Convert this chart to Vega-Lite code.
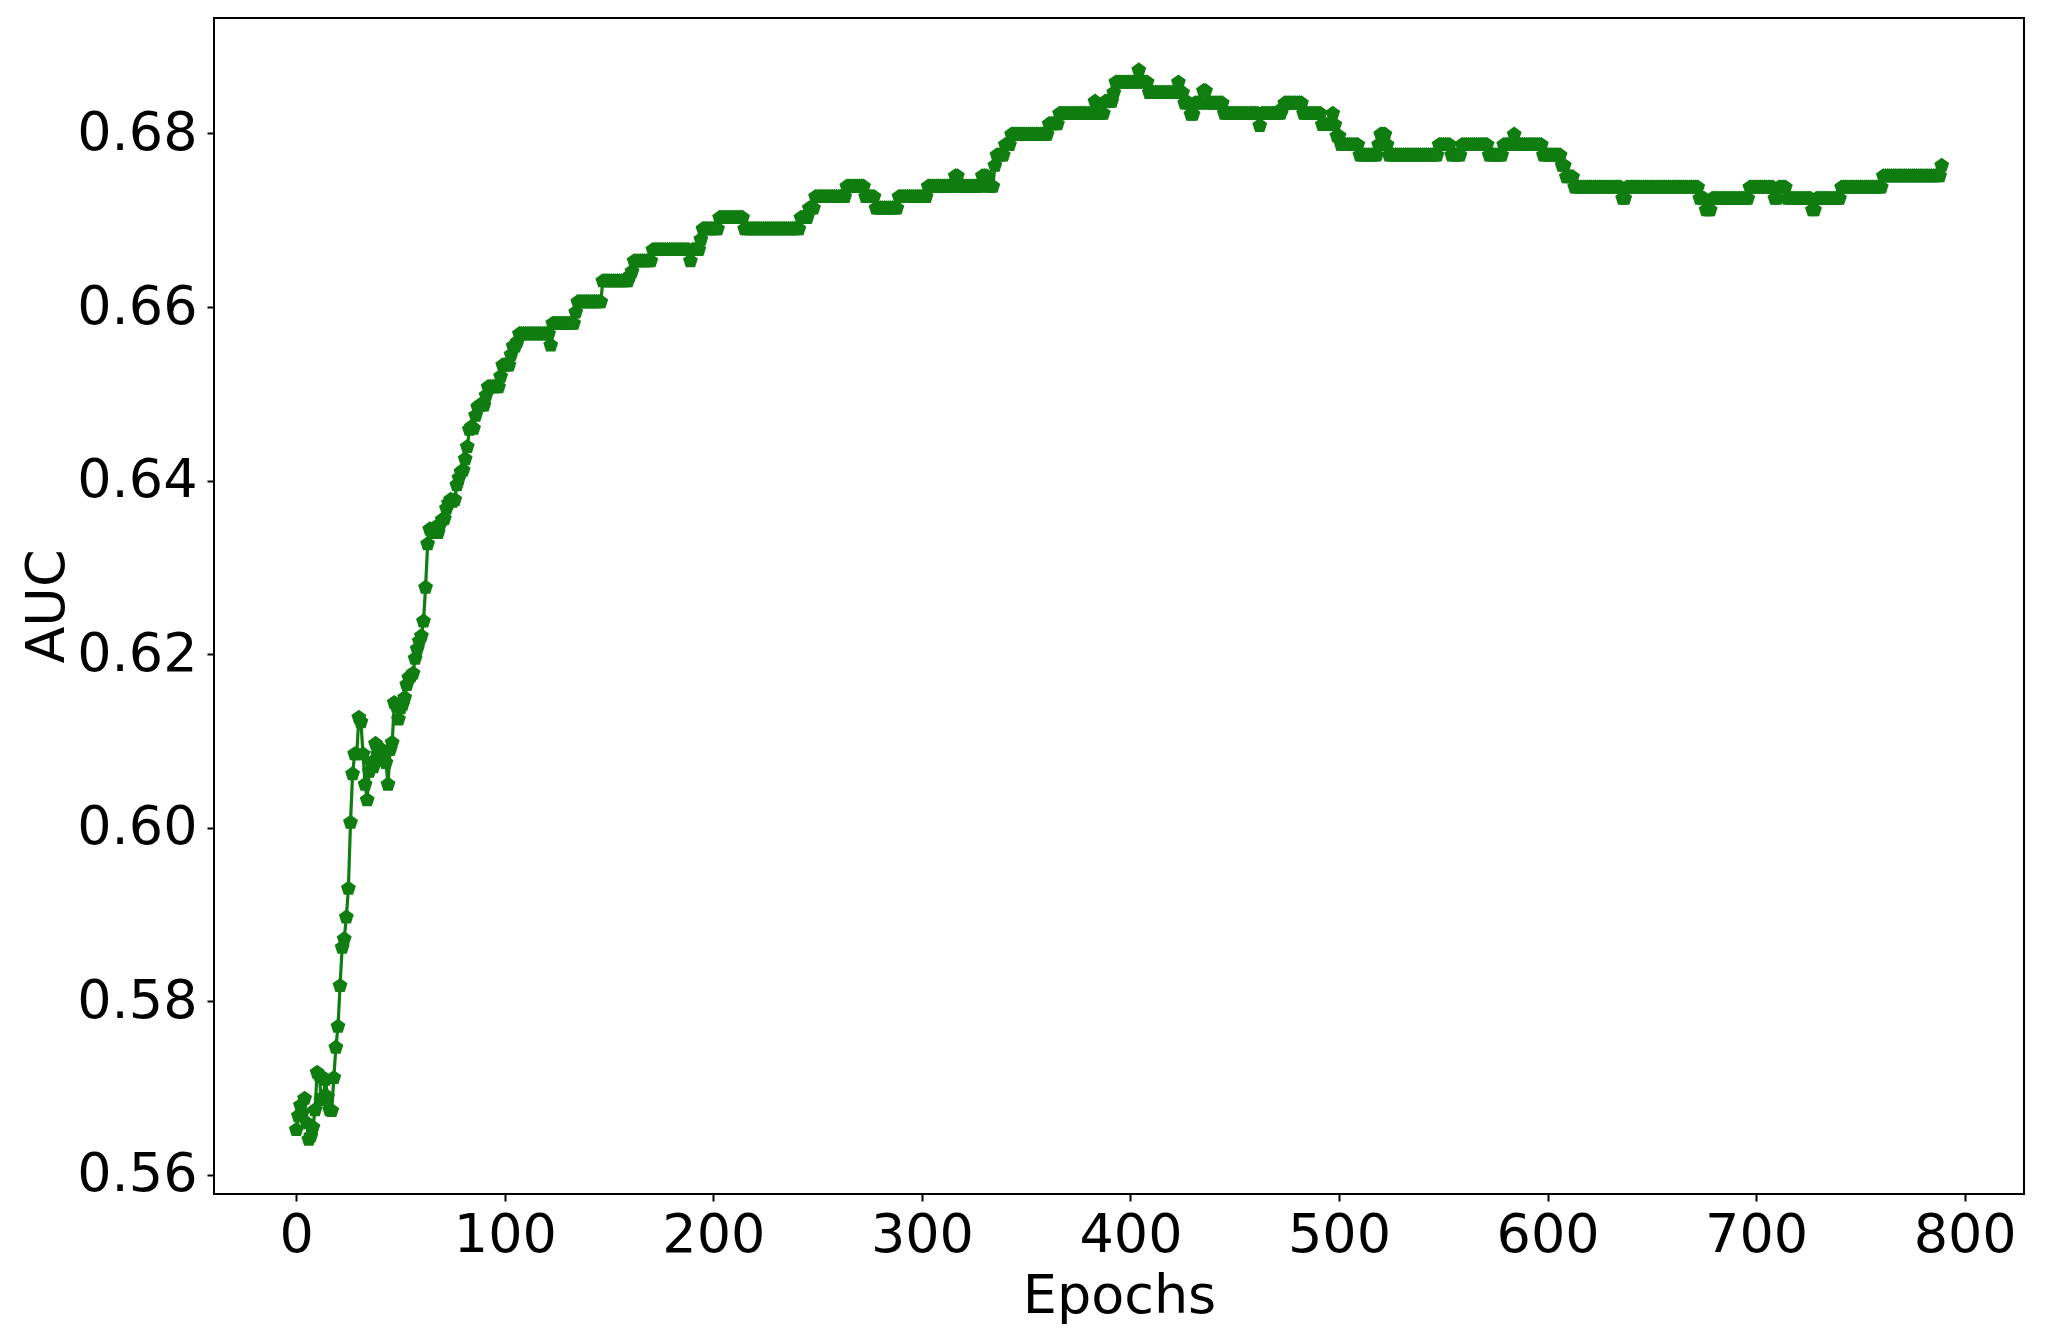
{
"$schema":"https://vega.github.io/schema/vega-lite/v6.json",
"autosize":{"type":"none"},
"width":1810,"height":1176,
"padding":{"left":214,"top":18,"right":30,"bottom":142},
"background":"white",
"config":{"font":"DejaVu Sans","view":{"stroke":"#000000","strokeWidth":2},
"axis":{"grid":false,"domain":false,"tickColor":"#000000","tickSize":7,"tickWidth":2,"labelColor":"#000000","labelFontSize":54,"labelFont":"DejaVu Sans","titleFont":"DejaVu Sans","titleFontSize":54,"titleFontWeight":"normal","titleColor":"#000000"}},
"data":{"values":[
{"epoch":0,"auc":0.5652},{"epoch":1,"auc":0.5668},{"epoch":2,"auc":0.568},{"epoch":3,"auc":0.5672},{"epoch":4,"auc":0.5688},{"epoch":5,"auc":0.566},{"epoch":6,"auc":0.5641},{"epoch":7,"auc":0.5645},{"epoch":8,"auc":0.5655},{"epoch":9,"auc":0.5675},
{"epoch":10,"auc":0.5718},{"epoch":11,"auc":0.5715},{"epoch":12,"auc":0.5686},{"epoch":13,"auc":0.569},{"epoch":14,"auc":0.571},{"epoch":15,"auc":0.569},{"epoch":16,"auc":0.5675},{"epoch":17,"auc":0.5674},{"epoch":18,"auc":0.5712},{"epoch":19,"auc":0.5747},
{"epoch":20,"auc":0.5771},{"epoch":21,"auc":0.5818},{"epoch":22,"auc":0.5862},{"epoch":23,"auc":0.5872},{"epoch":24,"auc":0.5897},{"epoch":25,"auc":0.593},{"epoch":26,"auc":0.6006},{"epoch":27,"auc":0.6062},{"epoch":28,"auc":0.6085},{"epoch":29,"auc":0.6085},
{"epoch":30,"auc":0.6127},{"epoch":31,"auc":0.6122},{"epoch":32,"auc":0.6085},{"epoch":33,"auc":0.605},{"epoch":34,"auc":0.6032},{"epoch":35,"auc":0.6065},{"epoch":36,"auc":0.6075},{"epoch":37,"auc":0.607},{"epoch":38,"auc":0.6097},{"epoch":39,"auc":0.6085},
{"epoch":40,"auc":0.6078},{"epoch":41,"auc":0.609},{"epoch":42,"auc":0.6085},{"epoch":43,"auc":0.6075},{"epoch":44,"auc":0.605},{"epoch":45,"auc":0.609},{"epoch":46,"auc":0.6098},{"epoch":47,"auc":0.6144},{"epoch":48,"auc":0.614},{"epoch":49,"auc":0.6125},
{"epoch":50,"auc":0.6138},{"epoch":51,"auc":0.6142},{"epoch":52,"auc":0.615},{"epoch":53,"auc":0.6165},{"epoch":54,"auc":0.6173},{"epoch":55,"auc":0.6175},{"epoch":56,"auc":0.6178},{"epoch":57,"auc":0.6195},{"epoch":58,"auc":0.6206},{"epoch":59,"auc":0.6215},
{"epoch":60,"auc":0.6221},{"epoch":61,"auc":0.6238},{"epoch":62,"auc":0.6277},{"epoch":63,"auc":0.6327},{"epoch":64,"auc":0.6344},{"epoch":65,"auc":0.634},{"epoch":66,"auc":0.6345},{"epoch":67,"auc":0.6342},{"epoch":68,"auc":0.634},{"epoch":69,"auc":0.635},
{"epoch":70,"auc":0.6355},{"epoch":71,"auc":0.6356},{"epoch":72,"auc":0.6368},{"epoch":73,"auc":0.6374},{"epoch":74,"auc":0.6378},{"epoch":75,"auc":0.6376},{"epoch":76,"auc":0.6378},{"epoch":77,"auc":0.6395},{"epoch":78,"auc":0.6403},{"epoch":79,"auc":0.641},
{"epoch":80,"auc":0.6412},{"epoch":81,"auc":0.6425},{"epoch":82,"auc":0.6439},{"epoch":83,"auc":0.6459},{"epoch":84,"auc":0.6462},{"epoch":85,"auc":0.646},{"epoch":86,"auc":0.6475},{"epoch":87,"auc":0.6485},{"epoch":88,"auc":0.6487},{"epoch":89,"auc":0.6487},
{"epoch":90,"auc":0.6487},{"epoch":91,"auc":0.6498},{"epoch":92,"auc":0.6508},{"epoch":93,"auc":0.6508},{"epoch":94,"auc":0.6508},{"epoch":95,"auc":0.6508},{"epoch":96,"auc":0.6508},{"epoch":97,"auc":0.6508},{"epoch":98,"auc":0.652},{"epoch":99,"auc":0.6533},
{"epoch":100,"auc":0.6533},{"epoch":101,"auc":0.6533},{"epoch":102,"auc":0.6533},{"epoch":103,"auc":0.6545},{"epoch":104,"auc":0.6555},{"epoch":105,"auc":0.6555},{"epoch":106,"auc":0.656},{"epoch":107,"auc":0.6569},{"epoch":108,"auc":0.6569},{"epoch":109,"auc":0.6569},
{"epoch":110,"auc":0.6569},{"epoch":111,"auc":0.6569},{"epoch":112,"auc":0.6569},{"epoch":113,"auc":0.6569},{"epoch":114,"auc":0.6569},{"epoch":115,"auc":0.6569},{"epoch":116,"auc":0.6569},{"epoch":117,"auc":0.6569},{"epoch":118,"auc":0.6569},{"epoch":119,"auc":0.6569},
{"epoch":120,"auc":0.6569},{"epoch":121,"auc":0.6569},{"epoch":122,"auc":0.6556},{"epoch":123,"auc":0.6581},{"epoch":124,"auc":0.6581},{"epoch":125,"auc":0.6581},{"epoch":126,"auc":0.6581},{"epoch":127,"auc":0.6581},{"epoch":128,"auc":0.6581},{"epoch":129,"auc":0.6581},
{"epoch":130,"auc":0.6581},{"epoch":131,"auc":0.6581},{"epoch":132,"auc":0.6581},{"epoch":133,"auc":0.6581},{"epoch":134,"auc":0.6594},{"epoch":135,"auc":0.6606},{"epoch":136,"auc":0.6606},{"epoch":137,"auc":0.6606},{"epoch":138,"auc":0.6606},{"epoch":139,"auc":0.6606},
{"epoch":140,"auc":0.6606},{"epoch":141,"auc":0.6606},{"epoch":142,"auc":0.6606},{"epoch":143,"auc":0.6606},{"epoch":144,"auc":0.6606},{"epoch":145,"auc":0.6606},{"epoch":146,"auc":0.6606},{"epoch":147,"auc":0.663},{"epoch":148,"auc":0.663},{"epoch":149,"auc":0.663},
{"epoch":150,"auc":0.663},{"epoch":151,"auc":0.663},{"epoch":152,"auc":0.663},{"epoch":153,"auc":0.663},{"epoch":154,"auc":0.663},{"epoch":155,"auc":0.663},{"epoch":156,"auc":0.663},{"epoch":157,"auc":0.663},{"epoch":158,"auc":0.663},{"epoch":159,"auc":0.663},
{"epoch":160,"auc":0.6636},{"epoch":161,"auc":0.6641},{"epoch":162,"auc":0.6653},{"epoch":163,"auc":0.6653},{"epoch":164,"auc":0.6653},{"epoch":165,"auc":0.6653},{"epoch":166,"auc":0.6653},{"epoch":167,"auc":0.6653},{"epoch":168,"auc":0.6653},{"epoch":169,"auc":0.6653},
{"epoch":170,"auc":0.6653},{"epoch":171,"auc":0.6666},{"epoch":172,"auc":0.6666},{"epoch":173,"auc":0.6666},{"epoch":174,"auc":0.6666},{"epoch":175,"auc":0.6666},{"epoch":176,"auc":0.6666},{"epoch":177,"auc":0.6666},{"epoch":178,"auc":0.6666},{"epoch":179,"auc":0.6666},
{"epoch":180,"auc":0.6666},{"epoch":181,"auc":0.6666},{"epoch":182,"auc":0.6666},{"epoch":183,"auc":0.6666},{"epoch":184,"auc":0.6666},{"epoch":185,"auc":0.6666},{"epoch":186,"auc":0.6666},{"epoch":187,"auc":0.6666},{"epoch":188,"auc":0.6666},{"epoch":189,"auc":0.6653},
{"epoch":190,"auc":0.6666},{"epoch":191,"auc":0.6666},{"epoch":192,"auc":0.6666},{"epoch":193,"auc":0.6666},{"epoch":194,"auc":0.6678},{"epoch":195,"auc":0.669},{"epoch":196,"auc":0.669},{"epoch":197,"auc":0.669},{"epoch":198,"auc":0.669},{"epoch":199,"auc":0.669},
{"epoch":200,"auc":0.669},{"epoch":201,"auc":0.669},{"epoch":202,"auc":0.669},{"epoch":203,"auc":0.6703},{"epoch":204,"auc":0.6703},{"epoch":205,"auc":0.6703},{"epoch":206,"auc":0.6703},{"epoch":207,"auc":0.6703},{"epoch":208,"auc":0.6703},{"epoch":209,"auc":0.6703},
{"epoch":210,"auc":0.6703},{"epoch":211,"auc":0.6703},{"epoch":212,"auc":0.6703},{"epoch":213,"auc":0.6703},{"epoch":214,"auc":0.6703},{"epoch":215,"auc":0.669},{"epoch":216,"auc":0.669},{"epoch":217,"auc":0.669},{"epoch":218,"auc":0.669},{"epoch":219,"auc":0.669},
{"epoch":220,"auc":0.669},{"epoch":221,"auc":0.669},{"epoch":222,"auc":0.669},{"epoch":223,"auc":0.669},{"epoch":224,"auc":0.669},{"epoch":225,"auc":0.669},{"epoch":226,"auc":0.669},{"epoch":227,"auc":0.669},{"epoch":228,"auc":0.669},{"epoch":229,"auc":0.669},
{"epoch":230,"auc":0.669},{"epoch":231,"auc":0.669},{"epoch":232,"auc":0.669},{"epoch":233,"auc":0.669},{"epoch":234,"auc":0.669},{"epoch":235,"auc":0.669},{"epoch":236,"auc":0.669},{"epoch":237,"auc":0.669},{"epoch":238,"auc":0.669},{"epoch":239,"auc":0.669},
{"epoch":240,"auc":0.669},{"epoch":241,"auc":0.669},{"epoch":242,"auc":0.6703},{"epoch":243,"auc":0.6703},{"epoch":244,"auc":0.6703},{"epoch":245,"auc":0.6703},{"epoch":246,"auc":0.6714},{"epoch":247,"auc":0.6714},{"epoch":248,"auc":0.6714},{"epoch":249,"auc":0.6727},
{"epoch":250,"auc":0.6727},{"epoch":251,"auc":0.6727},{"epoch":252,"auc":0.6727},{"epoch":253,"auc":0.6727},{"epoch":254,"auc":0.6727},{"epoch":255,"auc":0.6727},{"epoch":256,"auc":0.6727},{"epoch":257,"auc":0.6727},{"epoch":258,"auc":0.6727},{"epoch":259,"auc":0.6727},
{"epoch":260,"auc":0.6727},{"epoch":261,"auc":0.6727},{"epoch":262,"auc":0.6727},{"epoch":263,"auc":0.6727},{"epoch":264,"auc":0.6739},{"epoch":265,"auc":0.6739},{"epoch":266,"auc":0.6739},{"epoch":267,"auc":0.6739},{"epoch":268,"auc":0.6739},{"epoch":269,"auc":0.6739},
{"epoch":270,"auc":0.6739},{"epoch":271,"auc":0.6739},{"epoch":272,"auc":0.6739},{"epoch":273,"auc":0.6727},{"epoch":274,"auc":0.6727},{"epoch":275,"auc":0.6727},{"epoch":276,"auc":0.6727},{"epoch":277,"auc":0.6727},{"epoch":278,"auc":0.6714},{"epoch":279,"auc":0.6714},
{"epoch":280,"auc":0.6714},{"epoch":281,"auc":0.6714},{"epoch":282,"auc":0.6714},{"epoch":283,"auc":0.6714},{"epoch":284,"auc":0.6714},{"epoch":285,"auc":0.6714},{"epoch":286,"auc":0.6714},{"epoch":287,"auc":0.6714},{"epoch":288,"auc":0.6714},{"epoch":289,"auc":0.6727},
{"epoch":290,"auc":0.6727},{"epoch":291,"auc":0.6727},{"epoch":292,"auc":0.6727},{"epoch":293,"auc":0.6727},{"epoch":294,"auc":0.6727},{"epoch":295,"auc":0.6727},{"epoch":296,"auc":0.6727},{"epoch":297,"auc":0.6727},{"epoch":298,"auc":0.6727},{"epoch":299,"auc":0.6727},
{"epoch":300,"auc":0.6727},{"epoch":301,"auc":0.6727},{"epoch":302,"auc":0.6727},{"epoch":303,"auc":0.6739},{"epoch":304,"auc":0.6739},{"epoch":305,"auc":0.6739},{"epoch":306,"auc":0.6739},{"epoch":307,"auc":0.6739},{"epoch":308,"auc":0.6739},{"epoch":309,"auc":0.6739},
{"epoch":310,"auc":0.6739},{"epoch":311,"auc":0.6739},{"epoch":312,"auc":0.6739},{"epoch":313,"auc":0.6739},{"epoch":314,"auc":0.6739},{"epoch":315,"auc":0.6739},{"epoch":316,"auc":0.6751},{"epoch":317,"auc":0.6751},{"epoch":318,"auc":0.6739},{"epoch":319,"auc":0.6739},
{"epoch":320,"auc":0.6739},{"epoch":321,"auc":0.6739},{"epoch":322,"auc":0.6739},{"epoch":323,"auc":0.6739},{"epoch":324,"auc":0.6739},{"epoch":325,"auc":0.6739},{"epoch":326,"auc":0.6739},{"epoch":327,"auc":0.6739},{"epoch":328,"auc":0.6739},{"epoch":329,"auc":0.6751},
{"epoch":330,"auc":0.6751},{"epoch":331,"auc":0.6751},{"epoch":332,"auc":0.6739},{"epoch":333,"auc":0.6739},{"epoch":334,"auc":0.6739},{"epoch":335,"auc":0.6763},{"epoch":336,"auc":0.6775},{"epoch":337,"auc":0.6775},{"epoch":338,"auc":0.6775},{"epoch":339,"auc":0.6775},
{"epoch":340,"auc":0.6787},{"epoch":341,"auc":0.6787},{"epoch":342,"auc":0.6787},{"epoch":343,"auc":0.6799},{"epoch":344,"auc":0.6799},{"epoch":345,"auc":0.6799},{"epoch":346,"auc":0.6799},{"epoch":347,"auc":0.6799},{"epoch":348,"auc":0.6799},{"epoch":349,"auc":0.6799},
{"epoch":350,"auc":0.6799},{"epoch":351,"auc":0.6799},{"epoch":352,"auc":0.6799},{"epoch":353,"auc":0.6799},{"epoch":354,"auc":0.6799},{"epoch":355,"auc":0.6799},{"epoch":356,"auc":0.6799},{"epoch":357,"auc":0.6799},{"epoch":358,"auc":0.6799},{"epoch":359,"auc":0.6799},
{"epoch":360,"auc":0.6799},{"epoch":361,"auc":0.6811},{"epoch":362,"auc":0.6811},{"epoch":363,"auc":0.6811},{"epoch":364,"auc":0.6811},{"epoch":365,"auc":0.6811},{"epoch":366,"auc":0.6823},{"epoch":367,"auc":0.6823},{"epoch":368,"auc":0.6823},{"epoch":369,"auc":0.6823},
{"epoch":370,"auc":0.6823},{"epoch":371,"auc":0.6823},{"epoch":372,"auc":0.6823},{"epoch":373,"auc":0.6823},{"epoch":374,"auc":0.6823},{"epoch":375,"auc":0.6823},{"epoch":376,"auc":0.6823},{"epoch":377,"auc":0.6823},{"epoch":378,"auc":0.6823},{"epoch":379,"auc":0.6823},
{"epoch":380,"auc":0.6823},{"epoch":381,"auc":0.6823},{"epoch":382,"auc":0.6823},{"epoch":383,"auc":0.6837},{"epoch":384,"auc":0.6823},{"epoch":385,"auc":0.6823},{"epoch":386,"auc":0.6823},{"epoch":387,"auc":0.6823},{"epoch":388,"auc":0.6837},{"epoch":389,"auc":0.6837},
{"epoch":390,"auc":0.6837},{"epoch":391,"auc":0.6837},{"epoch":392,"auc":0.6847},{"epoch":393,"auc":0.6859},{"epoch":394,"auc":0.6859},{"epoch":395,"auc":0.6859},{"epoch":396,"auc":0.6859},{"epoch":397,"auc":0.6859},{"epoch":398,"auc":0.6859},{"epoch":399,"auc":0.6859},
{"epoch":400,"auc":0.6859},{"epoch":401,"auc":0.6859},{"epoch":402,"auc":0.6859},{"epoch":403,"auc":0.6859},{"epoch":404,"auc":0.6873},{"epoch":405,"auc":0.6859},{"epoch":406,"auc":0.6859},{"epoch":407,"auc":0.6859},{"epoch":408,"auc":0.6859},{"epoch":409,"auc":0.6847},
{"epoch":410,"auc":0.6847},{"epoch":411,"auc":0.6847},{"epoch":412,"auc":0.6847},{"epoch":413,"auc":0.6847},{"epoch":414,"auc":0.6847},{"epoch":415,"auc":0.6847},{"epoch":416,"auc":0.6847},{"epoch":417,"auc":0.6847},{"epoch":418,"auc":0.6847},{"epoch":419,"auc":0.6847},
{"epoch":420,"auc":0.6847},{"epoch":421,"auc":0.6847},{"epoch":422,"auc":0.6847},{"epoch":423,"auc":0.6859},{"epoch":424,"auc":0.6847},{"epoch":425,"auc":0.6847},{"epoch":426,"auc":0.6835},{"epoch":427,"auc":0.6835},{"epoch":428,"auc":0.6835},{"epoch":429,"auc":0.6822},
{"epoch":430,"auc":0.6822},{"epoch":431,"auc":0.6835},{"epoch":432,"auc":0.6835},{"epoch":433,"auc":0.6835},{"epoch":434,"auc":0.6835},{"epoch":435,"auc":0.6849},{"epoch":436,"auc":0.6849},{"epoch":437,"auc":0.6835},{"epoch":438,"auc":0.6835},{"epoch":439,"auc":0.6835},
{"epoch":440,"auc":0.6835},{"epoch":441,"auc":0.6835},{"epoch":442,"auc":0.6835},{"epoch":443,"auc":0.6835},{"epoch":444,"auc":0.6835},{"epoch":445,"auc":0.6823},{"epoch":446,"auc":0.6823},{"epoch":447,"auc":0.6823},{"epoch":448,"auc":0.6823},{"epoch":449,"auc":0.6823},
{"epoch":450,"auc":0.6823},{"epoch":451,"auc":0.6823},{"epoch":452,"auc":0.6823},{"epoch":453,"auc":0.6823},{"epoch":454,"auc":0.6823},{"epoch":455,"auc":0.6823},{"epoch":456,"auc":0.6823},{"epoch":457,"auc":0.6823},{"epoch":458,"auc":0.6823},{"epoch":459,"auc":0.6823},
{"epoch":460,"auc":0.6823},{"epoch":461,"auc":0.6823},{"epoch":462,"auc":0.6809},{"epoch":463,"auc":0.6823},{"epoch":464,"auc":0.6823},{"epoch":465,"auc":0.6823},{"epoch":466,"auc":0.6823},{"epoch":467,"auc":0.6823},{"epoch":468,"auc":0.6823},{"epoch":469,"auc":0.6823},
{"epoch":470,"auc":0.6823},{"epoch":471,"auc":0.6823},{"epoch":472,"auc":0.6823},{"epoch":473,"auc":0.6829},{"epoch":474,"auc":0.6835},{"epoch":475,"auc":0.6835},{"epoch":476,"auc":0.6835},{"epoch":477,"auc":0.6835},{"epoch":478,"auc":0.6835},{"epoch":479,"auc":0.6835},
{"epoch":480,"auc":0.6835},{"epoch":481,"auc":0.6835},{"epoch":482,"auc":0.6835},{"epoch":483,"auc":0.6823},{"epoch":484,"auc":0.6823},{"epoch":485,"auc":0.6823},{"epoch":486,"auc":0.6823},{"epoch":487,"auc":0.6823},{"epoch":488,"auc":0.6823},{"epoch":489,"auc":0.6823},
{"epoch":490,"auc":0.6823},{"epoch":491,"auc":0.6823},{"epoch":492,"auc":0.681},{"epoch":493,"auc":0.681},{"epoch":494,"auc":0.681},{"epoch":495,"auc":0.681},{"epoch":496,"auc":0.681},{"epoch":497,"auc":0.6823},{"epoch":498,"auc":0.681},{"epoch":499,"auc":0.6797},
{"epoch":500,"auc":0.6797},{"epoch":501,"auc":0.6787},{"epoch":502,"auc":0.6787},{"epoch":503,"auc":0.6787},{"epoch":504,"auc":0.6787},{"epoch":505,"auc":0.6787},{"epoch":506,"auc":0.6787},{"epoch":507,"auc":0.6787},{"epoch":508,"auc":0.6787},{"epoch":509,"auc":0.6787},
{"epoch":510,"auc":0.6775},{"epoch":511,"auc":0.6775},{"epoch":512,"auc":0.6775},{"epoch":513,"auc":0.6775},{"epoch":514,"auc":0.6775},{"epoch":515,"auc":0.6775},{"epoch":516,"auc":0.6775},{"epoch":517,"auc":0.6775},{"epoch":518,"auc":0.6775},{"epoch":519,"auc":0.6787},
{"epoch":520,"auc":0.6799},{"epoch":521,"auc":0.6799},{"epoch":522,"auc":0.6799},{"epoch":523,"auc":0.6787},{"epoch":524,"auc":0.6775},{"epoch":525,"auc":0.6775},{"epoch":526,"auc":0.6775},{"epoch":527,"auc":0.6775},{"epoch":528,"auc":0.6775},{"epoch":529,"auc":0.6775},
{"epoch":530,"auc":0.6775},{"epoch":531,"auc":0.6775},{"epoch":532,"auc":0.6775},{"epoch":533,"auc":0.6775},{"epoch":534,"auc":0.6775},{"epoch":535,"auc":0.6775},{"epoch":536,"auc":0.6775},{"epoch":537,"auc":0.6775},{"epoch":538,"auc":0.6775},{"epoch":539,"auc":0.6775},
{"epoch":540,"auc":0.6775},{"epoch":541,"auc":0.6775},{"epoch":542,"auc":0.6775},{"epoch":543,"auc":0.6775},{"epoch":544,"auc":0.6775},{"epoch":545,"auc":0.6775},{"epoch":546,"auc":0.6775},{"epoch":547,"auc":0.6775},{"epoch":548,"auc":0.6787},{"epoch":549,"auc":0.6787},
{"epoch":550,"auc":0.6787},{"epoch":551,"auc":0.6787},{"epoch":552,"auc":0.6787},{"epoch":553,"auc":0.6787},{"epoch":554,"auc":0.6775},{"epoch":555,"auc":0.6775},{"epoch":556,"auc":0.6775},{"epoch":557,"auc":0.6775},{"epoch":558,"auc":0.6775},{"epoch":559,"auc":0.6787},
{"epoch":560,"auc":0.6787},{"epoch":561,"auc":0.6787},{"epoch":562,"auc":0.6787},{"epoch":563,"auc":0.6787},{"epoch":564,"auc":0.6787},{"epoch":565,"auc":0.6787},{"epoch":566,"auc":0.6787},{"epoch":567,"auc":0.6787},{"epoch":568,"auc":0.6787},{"epoch":569,"auc":0.6787},
{"epoch":570,"auc":0.6787},{"epoch":571,"auc":0.6787},{"epoch":572,"auc":0.6775},{"epoch":573,"auc":0.6775},{"epoch":574,"auc":0.6775},{"epoch":575,"auc":0.6775},{"epoch":576,"auc":0.6775},{"epoch":577,"auc":0.6775},{"epoch":578,"auc":0.6775},{"epoch":579,"auc":0.6787},
{"epoch":580,"auc":0.6787},{"epoch":581,"auc":0.6787},{"epoch":582,"auc":0.6787},{"epoch":583,"auc":0.6787},{"epoch":584,"auc":0.6799},{"epoch":585,"auc":0.6787},{"epoch":586,"auc":0.6787},{"epoch":587,"auc":0.6787},{"epoch":588,"auc":0.6787},{"epoch":589,"auc":0.6787},
{"epoch":590,"auc":0.6787},{"epoch":591,"auc":0.6787},{"epoch":592,"auc":0.6787},{"epoch":593,"auc":0.6787},{"epoch":594,"auc":0.6787},{"epoch":595,"auc":0.6787},{"epoch":596,"auc":0.6787},{"epoch":597,"auc":0.6787},{"epoch":598,"auc":0.6775},{"epoch":599,"auc":0.6775},
{"epoch":600,"auc":0.6775},{"epoch":601,"auc":0.6775},{"epoch":602,"auc":0.6775},{"epoch":603,"auc":0.6775},{"epoch":604,"auc":0.6775},{"epoch":605,"auc":0.6775},{"epoch":606,"auc":0.6775},{"epoch":607,"auc":0.6763},{"epoch":608,"auc":0.6763},{"epoch":609,"auc":0.675},
{"epoch":610,"auc":0.675},{"epoch":611,"auc":0.675},{"epoch":612,"auc":0.675},{"epoch":613,"auc":0.6738},{"epoch":614,"auc":0.6738},{"epoch":615,"auc":0.6738},{"epoch":616,"auc":0.6738},{"epoch":617,"auc":0.6738},{"epoch":618,"auc":0.6738},{"epoch":619,"auc":0.6738},
{"epoch":620,"auc":0.6738},{"epoch":621,"auc":0.6738},{"epoch":622,"auc":0.6738},{"epoch":623,"auc":0.6738},{"epoch":624,"auc":0.6738},{"epoch":625,"auc":0.6738},{"epoch":626,"auc":0.6738},{"epoch":627,"auc":0.6738},{"epoch":628,"auc":0.6738},{"epoch":629,"auc":0.6738},
{"epoch":630,"auc":0.6738},{"epoch":631,"auc":0.6738},{"epoch":632,"auc":0.6738},{"epoch":633,"auc":0.6738},{"epoch":634,"auc":0.6738},{"epoch":635,"auc":0.6738},{"epoch":636,"auc":0.6725},{"epoch":637,"auc":0.6725},{"epoch":638,"auc":0.6738},{"epoch":639,"auc":0.6738},
{"epoch":640,"auc":0.6738},{"epoch":641,"auc":0.6738},{"epoch":642,"auc":0.6738},{"epoch":643,"auc":0.6738},{"epoch":644,"auc":0.6738},{"epoch":645,"auc":0.6738},{"epoch":646,"auc":0.6738},{"epoch":647,"auc":0.6738},{"epoch":648,"auc":0.6738},{"epoch":649,"auc":0.6738},
{"epoch":650,"auc":0.6738},{"epoch":651,"auc":0.6738},{"epoch":652,"auc":0.6738},{"epoch":653,"auc":0.6738},{"epoch":654,"auc":0.6738},{"epoch":655,"auc":0.6738},{"epoch":656,"auc":0.6738},{"epoch":657,"auc":0.6738},{"epoch":658,"auc":0.6738},{"epoch":659,"auc":0.6738},
{"epoch":660,"auc":0.6738},{"epoch":661,"auc":0.6738},{"epoch":662,"auc":0.6738},{"epoch":663,"auc":0.6738},{"epoch":664,"auc":0.6738},{"epoch":665,"auc":0.6738},{"epoch":666,"auc":0.6738},{"epoch":667,"auc":0.6738},{"epoch":668,"auc":0.6738},{"epoch":669,"auc":0.6738},
{"epoch":670,"auc":0.6738},{"epoch":671,"auc":0.6738},{"epoch":672,"auc":0.6738},{"epoch":673,"auc":0.6725},{"epoch":674,"auc":0.6725},{"epoch":675,"auc":0.6725},{"epoch":676,"auc":0.6712},{"epoch":677,"auc":0.6712},{"epoch":678,"auc":0.6712},{"epoch":679,"auc":0.6725},
{"epoch":680,"auc":0.6725},{"epoch":681,"auc":0.6725},{"epoch":682,"auc":0.6725},{"epoch":683,"auc":0.6725},{"epoch":684,"auc":0.6725},{"epoch":685,"auc":0.6725},{"epoch":686,"auc":0.6725},{"epoch":687,"auc":0.6725},{"epoch":688,"auc":0.6725},{"epoch":689,"auc":0.6725},
{"epoch":690,"auc":0.6725},{"epoch":691,"auc":0.6725},{"epoch":692,"auc":0.6725},{"epoch":693,"auc":0.6725},{"epoch":694,"auc":0.6725},{"epoch":695,"auc":0.6725},{"epoch":696,"auc":0.6725},{"epoch":697,"auc":0.6738},{"epoch":698,"auc":0.6738},{"epoch":699,"auc":0.6738},
{"epoch":700,"auc":0.6738},{"epoch":701,"auc":0.6738},{"epoch":702,"auc":0.6738},{"epoch":703,"auc":0.6738},{"epoch":704,"auc":0.6738},{"epoch":705,"auc":0.6738},{"epoch":706,"auc":0.6738},{"epoch":707,"auc":0.6738},{"epoch":708,"auc":0.6738},{"epoch":709,"auc":0.6725},
{"epoch":710,"auc":0.6725},{"epoch":711,"auc":0.6738},{"epoch":712,"auc":0.6738},{"epoch":713,"auc":0.6738},{"epoch":714,"auc":0.6738},{"epoch":715,"auc":0.6725},{"epoch":716,"auc":0.6725},{"epoch":717,"auc":0.6725},{"epoch":718,"auc":0.6725},{"epoch":719,"auc":0.6725},
{"epoch":720,"auc":0.6725},{"epoch":721,"auc":0.6725},{"epoch":722,"auc":0.6725},{"epoch":723,"auc":0.6725},{"epoch":724,"auc":0.6725},{"epoch":725,"auc":0.6725},{"epoch":726,"auc":0.6725},{"epoch":727,"auc":0.6712},{"epoch":728,"auc":0.6712},{"epoch":729,"auc":0.6725},
{"epoch":730,"auc":0.6725},{"epoch":731,"auc":0.6725},{"epoch":732,"auc":0.6725},{"epoch":733,"auc":0.6725},{"epoch":734,"auc":0.6725},{"epoch":735,"auc":0.6725},{"epoch":736,"auc":0.6725},{"epoch":737,"auc":0.6725},{"epoch":738,"auc":0.6725},{"epoch":739,"auc":0.6725},
{"epoch":740,"auc":0.6725},{"epoch":741,"auc":0.6738},{"epoch":742,"auc":0.6738},{"epoch":743,"auc":0.6738},{"epoch":744,"auc":0.6738},{"epoch":745,"auc":0.6738},{"epoch":746,"auc":0.6738},{"epoch":747,"auc":0.6738},{"epoch":748,"auc":0.6738},{"epoch":749,"auc":0.6738},
{"epoch":750,"auc":0.6738},{"epoch":751,"auc":0.6738},{"epoch":752,"auc":0.6738},{"epoch":753,"auc":0.6738},{"epoch":754,"auc":0.6738},{"epoch":755,"auc":0.6738},{"epoch":756,"auc":0.6738},{"epoch":757,"auc":0.6738},{"epoch":758,"auc":0.6738},{"epoch":759,"auc":0.6738},
{"epoch":760,"auc":0.6738},{"epoch":761,"auc":0.6751},{"epoch":762,"auc":0.6751},{"epoch":763,"auc":0.6751},{"epoch":764,"auc":0.6751},{"epoch":765,"auc":0.6751},{"epoch":766,"auc":0.6751},{"epoch":767,"auc":0.6751},{"epoch":768,"auc":0.6751},{"epoch":769,"auc":0.6751},
{"epoch":770,"auc":0.6751},{"epoch":771,"auc":0.6751},{"epoch":772,"auc":0.6751},{"epoch":773,"auc":0.6751},{"epoch":774,"auc":0.6751},{"epoch":775,"auc":0.6751},{"epoch":776,"auc":0.6751},{"epoch":777,"auc":0.6751},{"epoch":778,"auc":0.6751},{"epoch":779,"auc":0.6751},
{"epoch":780,"auc":0.6751},{"epoch":781,"auc":0.6751},{"epoch":782,"auc":0.6751},{"epoch":783,"auc":0.6751},{"epoch":784,"auc":0.6751},{"epoch":785,"auc":0.6751},{"epoch":786,"auc":0.6751},{"epoch":787,"auc":0.6751},{"epoch":788,"auc":0.6751},{"epoch":789,"auc":0.6763}
]},
"mark":{"type":"line","color":"#0f7d0f","strokeWidth":3.2,"clip":true,
"point":{"shape":"M0,-1L0.951,-0.309L0.588,0.809L-0.588,0.809L-0.951,-0.309Z","size":245,"filled":true,"color":"#0f7d0f","opacity":1,"strokeWidth":0}},
"encoding":{
"x":{"field":"epoch","type":"quantitative","scale":{"domain":[-39.45,828.45],"nice":false,"zero":false},
"axis":{"title":"Epochs","values":[0,100,200,300,400,500,600,700,800],"format":"d","labelPadding":7,"titleY":118,"titleBaseline":"alphabetic"}},
"y":{"field":"auc","type":"quantitative","scale":{"domain":[0.5578,0.6933],"nice":false,"zero":false},
"axis":{"title":"AUC","values":[0.56,0.58,0.6,0.62,0.64,0.66,0.68],"format":".2f","labelPadding":10,"titleX":-151,"titleBaseline":"alphabetic"}}
}
}
